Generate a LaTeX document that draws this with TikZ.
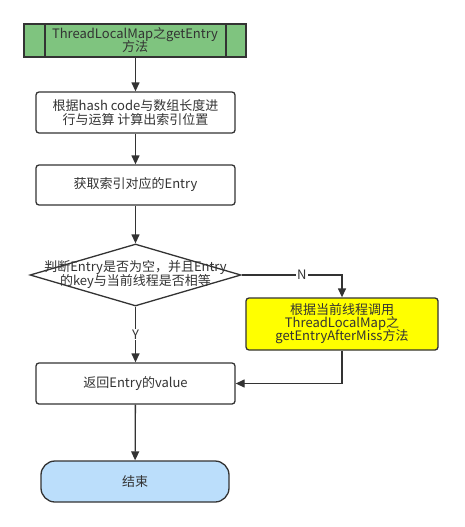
\documentclass[tikz,border=0pt]{standalone}
\usepackage{fontspec}
\setmainfont{Noto Sans CJK SC}
\usetikzlibrary{shapes.geometric,arrows.meta}
\definecolor{ln}{HTML}{333333}
\definecolor{gfill}{HTML}{7FC47F}
\definecolor{yfill}{HTML}{FFFF00}
\definecolor{bfill}{HTML}{BBDEFB}
\definecolor{txt}{HTML}{333333}
\begin{document}
\begin{tikzpicture}[x=1pt,y=-1pt,
  every node/.style={font=\fontsize{13}{15}\selectfont, text=txt, align=center, inner sep=0pt},
  box/.style={draw=ln, line width=1.3pt, rounded corners=3pt, fill=white, minimum width=199pt},
  conn/.style={draw=ln, line width=1.3pt, -{Triangle[length=9pt,width=8pt]}},
  lbl/.style={fill=white, inner sep=1pt}]
\useasboundingbox (0,0) rectangle (464,527);
% start
\node[draw=ln, line width=1.3pt, fill=gfill, minimum width=222pt, minimum height=33pt] (start) at (135,40.5) {ThreadLocalMap之getEntry\\[-2pt]方法};
\draw[ln, line width=1.3pt] (45,24) -- (45,57) (226,24) -- (226,57);
% boxes
\node[box, minimum height=41pt] (hash) at (135.5,112.5) {根据hash code与数组长度进\\[-1pt]行与运算 计算出索引位置};
\node[box, minimum height=40pt] (get) at (135.5,185) {获取索引对应的Entry};
\node[draw=ln, line width=1.3pt, fill=white, diamond, aspect=3.4, minimum width=211pt, minimum height=62pt] (dec) at (135.5,275) {};
\node at (135.5,275) {判断Entry是否为空，并且Entry\\[-1pt]的key与当前线程是否相等};
\node[box, fill=yfill, minimum width=192pt, minimum height=52pt] (miss) at (342,324) {根据当前线程调用\\[-2pt]ThreadLocalMap之\\[-2pt]getEntryAfterMiss方法};
\node[box, minimum height=41pt] (ret) at (135.5,383.5) {返回Entry的value};
\node[draw=ln, line width=1.3pt, fill=bfill, rounded corners=14pt, minimum width=188pt, minimum height=41pt] (end) at (135,481.5) {结束};
% connectors
\draw[conn] (start.south -| hash.north) -- (hash.north);
\draw[conn] (hash) -- (get);
\draw[conn] (get) -- (dec.north);
\draw[conn] (dec.east) -| (miss.north) node[lbl, pos=0.3] {N};
\draw[conn] (dec.south) -- (ret.north) node[lbl, midway] {Y};
\draw[conn] (miss.south) |- (ret.east);
\draw[conn] (ret) -- (end);
\end{tikzpicture}
\end{document}
